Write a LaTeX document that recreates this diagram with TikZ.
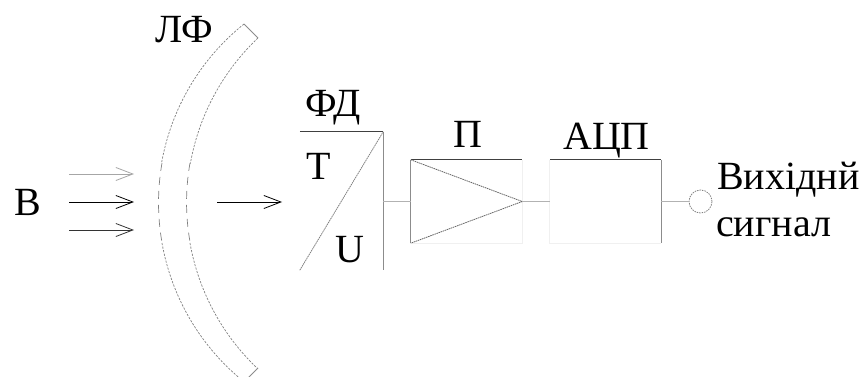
\documentclass[tikz,border=0pt]{standalone}
\usepackage{fontspec}
\setmainfont{Liberation Serif}
\usetikzlibrary{arrows.meta}
\tikzset{
 x=1pt,y=-1pt,
 lab/.style={inner sep=0pt,font=\fontsize{40}{44}\selectfont},
 blockbox/.style={rectangle,inner sep=0pt,minimum width=#1,minimum height=83pt},
 dark/.style={draw=black!75,line width=1pt},
 mid/.style={draw=black!45,line width=1pt},
 faint/.style={draw=black!6,line width=1pt},
 wire/.style={draw=black!30,line width=1pt},
 ray/.style={draw=black,line width=1pt,-{Straight Barb[length=17pt,width=13pt,line width=.8pt]}},
 lens/.style={draw=black!50,line width=.7pt,dash pattern=on 2.2pt off 1.4pt},
 lenscore/.style={draw=black!50,line width=.7pt,dash pattern=on 8pt off 6pt},
}
\begin{document}
\begin{tikzpicture}
\useasboundingbox (0,0) rectangle (864,377);
% lens filter: outer and inner arcs, sparser around the axis
\draw[lens] (244,24) arc[start angle=231.3,end angle=190,radius=229.3];
\draw[lenscore] (162,163) arc[start angle=190,end angle=170,radius=229.3];
\draw[lens] (162,243) arc[start angle=170,end angle=128.7,radius=229.3];
\draw[lens] (258,38) arc[start angle=226.6,end angle=190,radius=227.2];
\draw[lenscore] (190,163) arc[start angle=190,end angle=170,radius=227.2];
\draw[lens] (190,243) arc[start angle=170,end angle=133.4,radius=227.2];
\draw[mid,line width=.8pt] (244,24) -- (258,38);
\draw[mid,line width=.8pt] (258,368) -- (244,382);
% rays
\coordinate (r1a) at (69,174); \coordinate (r1b) at (134,174);
\coordinate (r2a) at (69,202); \coordinate (r2b) at (134,202);
\coordinate (r3a) at (69,230); \coordinate (r3b) at (134,230);
\coordinate (r4a) at (217,202); \coordinate (r4b) at (282,202);
\draw[ray,draw=black!35] (r1a) -- (r1b);
\draw[ray] (r2a) -- (r2b);
\draw[ray,draw=black!80] (r3a) -- (r3b);
\draw[ray] (r4a) -- (r4b);
% blocks
\node[blockbox=83pt,minimum height=138pt] (fd) at (341.5,201) {};
\node[blockbox=111pt] (amp) at (466.5,201.5) {};
\node[blockbox=111pt] (adc) at (605.5,201.5) {};
\node[circle,inner sep=0pt,minimum size=23pt,draw=black!50,line width=.8pt,dash pattern=on 1.5pt off 1pt] (out) at (700.5,201.5) {};
% photodetector
\draw[dark] (fd.north west) -- (fd.north east);
\draw[mid] (fd.north east) -- (fd.south east);
\draw[draw=black!50,line width=.8pt,dash pattern=on 1.5pt off .7pt] (fd.south west) -- (fd.north east);
% amplifier
\draw[dark] (amp.north west) -- (amp.north east);
\draw[mid] (amp.north west) -- (amp.south west);
\draw[faint] (amp.north east) -- (amp.south east) -- (amp.south west);
\draw[draw=black!60,line width=.8pt,dash pattern=on 1.5pt off .7pt] (amp.north west) -- (amp.east) -- (amp.south west);
% ADC
\draw[dark] (adc.north west) -- (adc.north east);
\draw[mid] (adc.north east) -- (adc.south east);
\draw[faint] (adc.north west) -- (adc.south west) -- (adc.south east);
% connectors
\draw[wire] (fd.east |- amp.west) -- (amp.west);
\draw[wire] (amp.east) -- (adc.west);
\draw[wire] (adc.east) -- (out.west);
% labels
\node[lab,anchor=base west] (lb) at (14,215) {В};
\node[lab,anchor=base west] (llf) at (155,43) {ЛФ};
\node[lab,anchor=base west] (lfd) at (305,117) {ФД};
\node[lab,anchor=base west] (lt) at (306,179) {Т};
\node[lab,anchor=base west] (lu) at (335,262) {U};
\node[lab,anchor=base west] (lp) at (453,147) {П};
\node[lab,anchor=base west] (la) at (563,149) {АЦП};
\node[lab,anchor=base west] (lo1) at (717,189) {Вихіднй};
\node[lab,anchor=base west] (lo2) at (716,236) {сигнал};
\end{tikzpicture}
\end{document}
